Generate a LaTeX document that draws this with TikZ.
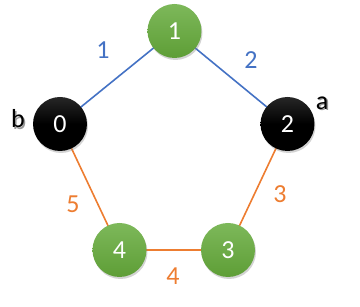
\documentclass[tikz,border=0pt]{standalone}
\usepackage{fontspec}
\setmainfont{Carlito}
\usetikzlibrary{shadows}
\definecolor{eblue}{HTML}{4472C4}
\definecolor{eorange}{HTML}{ED7D31}
\definecolor{gtop}{HTML}{7DB85A}
\definecolor{gbot}{HTML}{5E9E36}
\begin{document}
\begin{tikzpicture}[x=1pt,y=-1pt,
  vtx/.style={circle, minimum size=54pt, inner sep=0pt, font=\fontsize{26}{26}\selectfont, text=white,
    drop shadow={shadow xshift=1pt, shadow yshift=-2pt, opacity=0.35}},
  gv/.style={vtx, top color=gtop, bottom color=gbot},
  bv/.style={vtx, top color=black!85, bottom color=black, middle color=black},
  lab/.style={font=\fontsize{26}{26}\selectfont},
  blab/.style={lab, text=eblue},
  olab/.style={lab, text=eorange},
  be/.style={draw=eblue, line width=1.6pt},
  oe/.style={draw=eorange, line width=1.6pt}]
\useasboundingbox (0,0) rectangle (360,307);
\coordinate (p0) at (60,124);
\coordinate (p1) at (174.5,31);
\coordinate (p2) at (287.5,124);
\coordinate (p3) at (228,250);
\coordinate (p4) at (119.5,250);
\draw[be] (p0) -- (p1) -- (p2);
\draw[oe] (p2) -- (p3) -- (p4) -- (p0);
\node[bv] (n0) at (p0) {0};
\node[gv] (n1) at (p1) {1};
\node[bv] (n2) at (p2) {2};
\node[gv] (n3) at (p3) {3};
\node[gv] (n4) at (p4) {4};
\node[blab] (l1) at (103,50) {1};
\node[blab] (l2) at (251,60) {2};
\node[olab] (l3) at (280,194) {3};
\node[olab] (l4) at (173,276) {4};
\node[olab] (l5) at (73,204) {5};
\node[lab, text=black!40] (bs) at (19.5,120.5) {b};
\node[lab] (b) at (18,119) {b};
\node[lab, text=black!40] (as) at (323.5,104.5) {a};
\node[lab] (a) at (322,103) {a};
\end{tikzpicture}
\end{document}
